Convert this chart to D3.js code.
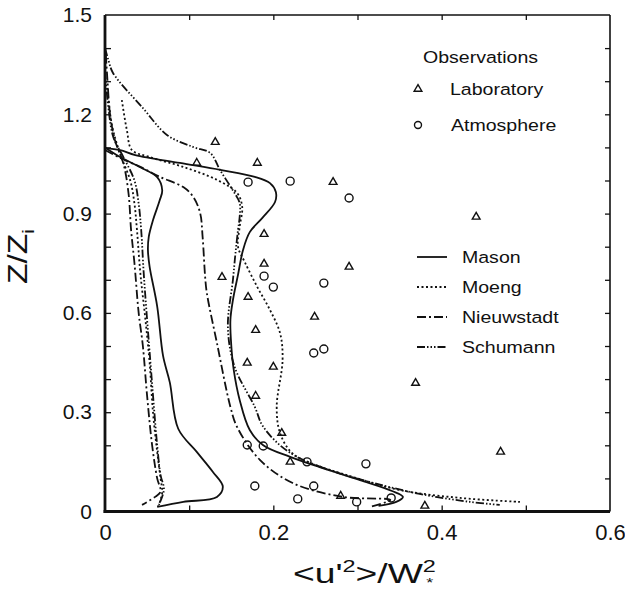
<!DOCTYPE html>
<html>
<head>
<meta charset="utf-8">
<script src="https://cdn.jsdelivr.net/npm/d3@7"></script>
<style>
  body { margin: 0; background: #fff; }
  text { font-family: "Liberation Sans", Arial, sans-serif; fill: #111; }
</style>
</head>
<body>
<div id="chart"></div>
<script>
// tick labels
const xTicks = [0, 0.2, 0.4, 0.6];
const yTicks = [0, 0.3, 0.6, 0.9, 1.2, 1.5];
const xMinor = [0.1, 0.2, 0.3, 0.4, 0.5];
const yMinor = [0.1, 0.2, 0.3, 0.4, 0.5, 0.6, 0.7, 0.8, 0.9, 1.0, 1.1, 1.2, 1.3, 1.4];

const models = ["Mason", "Moeng", "Nieuwstadt", "Schumann"];
const dashes = ["none", "2,2.5", "9,3,2,3", "8,2,1.5,2,1.5,2,1.5,2"];

// profiles, [<u'2>/w*2, z/zi]
const masonOuter = [[0,1.098],[0.018,1.092],[0.036,1.077],[0.089,1.053],[0.137,1.032],[0.178,1.011],[0.196,0.992],
  [0.203,0.965],[0.202,0.935],[0.187,0.887],[0.172,0.844],[0.164,0.79],[0.158,0.715],[0.152,0.639],[0.149,0.579],
  [0.150,0.503],[0.153,0.427],[0.16,0.337],[0.172,0.246],[0.188,0.2],[0.22,0.165],[0.255,0.134],[0.303,0.095],
  [0.341,0.062],[0.354,0.044],[0.346,0.029],[0.325,0.017]];
const masonInner = [[0,1.10],[0.018,1.071],[0.042,1.04],[0.062,1.01],[0.068,0.97],[0.065,0.94],[0.057,0.88],
  [0.052,0.83],[0.051,0.79],[0.053,0.74],[0.062,0.62],[0.069,0.47],[0.077,0.39],[0.087,0.25],[0.109,0.18],
  [0.128,0.12],[0.14,0.075],[0.133,0.044],[0.093,0.029],[0.062,0.014]];
const moengOuter = [[0.02,1.243],[0.026,1.152],[0.032,1.092],[0.053,1.071],[0.093,1.041],[0.133,1.002],[0.157,0.962],
  [0.163,0.92],[0.160,0.86],[0.158,0.80],[0.166,0.754],[0.181,0.678],[0.196,0.609],[0.208,0.539],[0.211,0.458],
  [0.204,0.316],[0.208,0.237],[0.222,0.177],[0.244,0.147],[0.291,0.107],[0.35,0.065],[0.422,0.041],[0.493,0.029]];
const moengInner = [[0.003,1.28],[0.008,1.17],[0.018,1.08],[0.03,1.0],[0.035,0.93],[0.038,0.85],[0.042,0.72],
  [0.048,0.58],[0.053,0.45],[0.057,0.3],[0.062,0.18],[0.066,0.1],[0.068,0.06],[0.066,0.035],[0.063,0.015]];
const nieuwstadtOuter = [[0,1.092],[0.018,1.068],[0.042,1.041],[0.065,1.011],[0.093,0.98],[0.105,0.95],[0.113,0.902],
  [0.116,0.829],[0.119,0.708],[0.121,0.66],[0.133,0.509],[0.149,0.316],[0.157,0.255],[0.184,0.156],[0.223,0.086],
  [0.283,0.044],[0.339,0.035],[0.315,0.014]];
const nieuwstadtInner = [[0.001,1.38],[0.003,1.3],[0.006,1.2],[0.012,1.12],[0.022,1.05],[0.028,0.96],[0.031,0.85],
  [0.035,0.75],[0.04,0.6],[0.045,0.5],[0.05,0.35],[0.056,0.2],[0.062,0.1],[0.066,0.06],[0.06,0.045],[0.044,0.02]];
const schumannOuter = [[0,1.40],[0.004,1.364],[0.0095,1.325],[0.045,1.219],[0.074,1.137],[0.105,1.101],[0.125,1.083],
  [0.137,1.03],[0.152,0.97],[0.16,0.932],[0.16,0.89],[0.158,0.85],[0.155,0.78],[0.152,0.70],[0.146,0.557],
  [0.154,0.437],[0.178,0.316],[0.187,0.26],[0.208,0.2],[0.232,0.16],[0.267,0.125],[0.315,0.089],[0.374,0.053],
  [0.434,0.029],[0.469,0.02]];
const schumannInner = [[0,1.33],[0.004,1.22],[0.01,1.13],[0.022,1.07],[0.035,1.0],[0.04,0.93],[0.043,0.85],
  [0.046,0.72],[0.05,0.58],[0.054,0.45],[0.058,0.32],[0.062,0.2],[0.066,0.11],[0.07,0.07],[0.068,0.045],[0.064,0.02]];

// observations
const laboratory = [[0.131,1.116],[0.109,1.053],[0.181,1.053],[0.271,0.995],[0.441,0.890],[0.189,0.838],[0.189,0.748],
  [0.290,0.739],[0.139,0.708],[0.170,0.648],[0.249,0.588],[0.179,0.548],[0.169,0.449],[0.200,0.437],[0.179,0.349],
  [0.369,0.388],[0.210,0.237],[0.220,0.150],[0.470,0.180],[0.280,0.047],[0.380,0.017]];
const atmosphere = [[0.170,0.995],[0.220,0.998],[0.290,0.947],[0.189,0.711],[0.200,0.678],[0.260,0.690],[0.248,0.479],
  [0.260,0.491],[0.169,0.201],[0.188,0.198],[0.240,0.150],[0.310,0.144],[0.178,0.077],[0.248,0.077],[0.229,0.038],
  [0.299,0.029],[0.340,0.041]];

const profiles = [
  [masonOuter, masonInner],
  [moengOuter, moengInner],
  [nieuwstadtOuter, nieuwstadtInner],
  [schumannOuter, schumannInner]
];

var margin = {top: 15, right: 15, bottom: 80.5, left: 105},
    W = 625, H = 592,
    width = W - margin.left - margin.right,
    height = H - margin.top - margin.bottom;

var svg = d3.select("#chart").append("svg")
    .attr("width", W).attr("height", H);

var x = d3.scaleLinear().domain([0, 0.6]).range([margin.left, margin.left + width]);
var y = d3.scaleLinear().domain([0, 1.5]).range([margin.top + height, margin.top]);

// inward ticks on all four sides
svg.append("g").attr("transform", "translate(" + x(0) + ",0)")
  .call(d3.axisLeft(y).tickValues(yMinor).tickSize(-6).tickFormat(""))
  .call(g => g.select(".domain").remove());
svg.append("g").attr("transform", "translate(" + x(0.6) + ",0)")
  .call(d3.axisRight(y).tickValues(yMinor).tickSize(-5).tickFormat(""))
  .call(g => g.select(".domain").remove());
svg.append("g").attr("transform", "translate(0," + y(0) + ")")
  .call(d3.axisBottom(x).tickValues(xMinor).tickSize(-6).tickFormat(""))
  .call(g => g.select(".domain").remove());
svg.append("g").attr("transform", "translate(0," + y(1.5) + ")")
  .call(d3.axisTop(x).tickValues(xMinor).tickSize(-5).tickFormat(""))
  .call(g => g.select(".domain").remove());
svg.selectAll(".tick line").attr("stroke", "#111").attr("stroke-width", 1.3);

// tick labels
svg.append("g").attr("transform", "translate(" + x(0) + ",0)")
  .call(d3.axisLeft(y).tickValues(yTicks).tickSize(0).tickPadding(13).tickFormat(d => d === 0 ? "0" : d3.format(".1f")(d)))
  .call(g => g.select(".domain").remove())
  .call(g => g.selectAll("text").attr("font-size", 21).attr("fill", "#111").attr("font-family", "Liberation Sans, Arial, sans-serif"));
svg.append("g").attr("transform", "translate(0," + y(0) + ")")
  .call(d3.axisBottom(x).tickValues(xTicks).tickSize(0).tickPadding(13).tickFormat(d => d === 0 ? "0" : d3.format(".1f")(d)))
  .call(g => g.select(".domain").remove())
  .call(g => g.selectAll("text").attr("font-size", 22).attr("fill", "#111").attr("font-family", "Liberation Sans, Arial, sans-serif"));

// frame
svg.append("line").attr("x1", x(0)).attr("x2", x(0.6)).attr("y1", y(1.5)).attr("y2", y(1.5))
  .attr("stroke", "#111").attr("stroke-width", 1.4);
svg.append("line").attr("x1", x(0.6)).attr("x2", x(0.6)).attr("y1", y(1.5)).attr("y2", y(0))
  .attr("stroke", "#111").attr("stroke-width", 1.6);
svg.append("line").attr("x1", x(0)).attr("x2", x(0)).attr("y1", y(1.5)).attr("y2", y(0) + 1.5)
  .attr("stroke", "#111").attr("stroke-width", 2.8);
svg.append("line").attr("x1", x(0) - 1.4).attr("x2", x(0.6)).attr("y1", y(0)).attr("y2", y(0))
  .attr("stroke", "#111").attr("stroke-width", 2.8);

// model profiles
var line = d3.line()
  .x(d => x(d[0]))
  .y(d => y(d[1]))
  .curve(d3.curveCatmullRom.alpha(0.5));

profiles.forEach(function (pair, i) {
  svg.append("g").selectAll("path")
    .data(pair)
    .enter().append("path")
      .attr("d", line)
      .attr("fill", "none")
      .attr("stroke", "#111")
      .attr("stroke-width", 1.8)
      .attr("stroke-dasharray", dashes[i]);
});

// observations
var tri = d3.symbol().type(d3.symbolTriangle).size(26);
svg.append("g").selectAll("path")
  .data(laboratory)
  .enter().append("path")
    .attr("d", tri)
    .attr("transform", d => "translate(" + x(d[0]) + "," + y(d[1]) + ")")
    .attr("fill", "none").attr("stroke", "#111").attr("stroke-width", 1.4);
svg.append("g").selectAll("circle")
  .data(atmosphere)
  .enter().append("circle")
    .attr("cx", d => x(d[0]))
    .attr("cy", d => y(d[1]))
    .attr("r", 4)
    .attr("fill", "none").attr("stroke", "#111").attr("stroke-width", 1.4);

// legend
function stretchedText(px, py, str, size, sx) {
  return svg.append("text")
    .attr("transform", "translate(" + px + "," + py + ") scale(" + sx + ",1)")
    .attr("font-size", size)
    .attr("dominant-baseline", "central")
    .text(str);
}
stretchedText(423, 57, "Observations", 17, 1.15);
svg.append("path").attr("d", tri).attr("transform", "translate(418,89)")
  .attr("fill", "none").attr("stroke", "#111").attr("stroke-width", 1.4);
stretchedText(450, 89, "Laboratory", 17, 1.15);
svg.append("circle").attr("cx", 418).attr("cy", 125).attr("r", 3.5)
  .attr("fill", "none").attr("stroke", "#111").attr("stroke-width", 1.4);
stretchedText(451, 125, "Atmosphere", 17, 1.15);

models.forEach(function (m, i) {
  var ly = 257 + i * 30;
  svg.append("line").attr("x1", 417).attr("x2", 447).attr("y1", ly).attr("y2", ly)
    .attr("stroke", "#111").attr("stroke-width", 1.8).attr("stroke-dasharray", dashes[i]);
  stretchedText(462, ly, m, 17, 1.15);
});

// axis titles
var xt = svg.append("text")
  .attr("transform", "translate(293,583) scale(1.38,1)")
  .attr("font-size", 27);
xt.append("tspan").text("<u'");
xt.append("tspan").attr("dy", -11).attr("font-size", 17).text("2");
xt.append("tspan").attr("dy", 11).text(">/W");
xt.append("tspan").attr("dy", -11).attr("font-size", 17).text("2");
xt.append("tspan").attr("dx", -7).attr("dy", 15).attr("font-size", 13).text("*");

var yt = svg.append("text")
  .attr("transform", "translate(27,284) rotate(-90) scale(1.2,1)")
  .attr("font-size", 28);
yt.append("tspan").text("Z/Z");
yt.append("tspan").attr("dy", 7).attr("font-size", 17).text("i");
</script>
</body>
</html>
